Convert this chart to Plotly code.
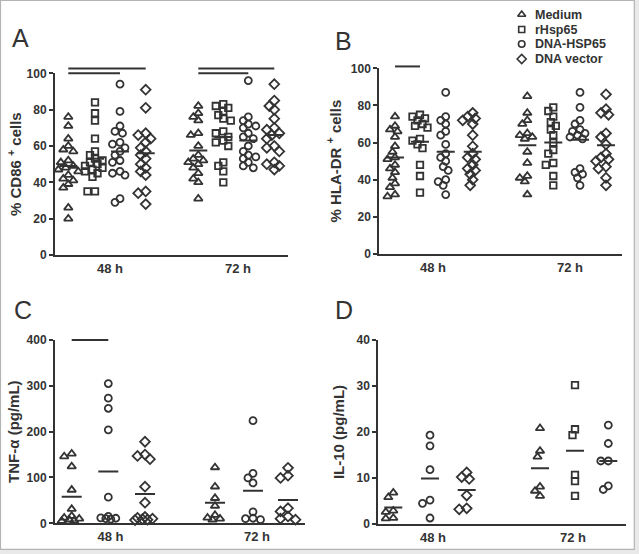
import plotly.graph_objects as go

# ---------------- data ----------------
SERIES = ["Medium", "rHsp65", "DNA-HSP65", "DNA vector"]
TIME_LABELS = ["48 h", "72 h"]

# Panel A: % CD86+ cells
cd86_48h = {
    "Medium": [76, 71, 64, 60, 58, 57, 52, 51, 49, 48, 47, 46, 44, 42, 41, 39, 37, 26, 20],
    "rHsp65": [84, 78, 74, 64, 57, 55, 53, 52, 51, 50, 49, 48, 47, 46, 45, 43, 35, 35],
    "DNA-HSP65": [94, 79, 71, 68, 67, 62, 61, 59, 57, 55, 52, 51, 46, 45, 44, 31, 29],
    "DNA vector": [91, 81, 67, 66, 64, 62, 59, 57, 55, 53, 50, 48, 46, 44, 35, 34, 28],
}
cd86_72h = {
    "Medium": [82, 78, 76, 74, 67, 66, 60, 55, 53, 52, 51, 50, 48, 45, 42, 40, 31],
    "rHsp65": [83, 82, 81, 79, 77, 75, 74, 68, 67, 65, 63, 62, 60, 51, 49, 46, 40],
    "DNA-HSP65": [96, 76, 74, 72, 71, 70, 67, 65, 64, 60, 57, 55, 54, 53, 51, 49, 48],
    "DNA vector": [94, 85, 82, 80, 75, 70, 69, 67, 66, 64, 60, 59, 57, 51, 50, 49, 47],
}
cd86_mean_48h = {"Medium": 49, "rHsp65": 53, "DNA-HSP65": 57, "DNA vector": 56}
cd86_mean_72h = {"Medium": 57.5, "rHsp65": 65, "DNA-HSP65": 63, "DNA vector": 66}
cd86_sig = [("48 h", "Medium", "DNA vector", 102.7), ("48 h", "Medium", "DNA-HSP65", 100),
            ("72 h", "Medium", "DNA vector", 102.7), ("72 h", "Medium", "DNA-HSP65", 100)]

# Panel B: % HLA-DR+ cells
hladr_48h = {
    "Medium": [74, 69, 67, 66, 63, 58, 55, 52, 51, 48, 46, 44, 41, 38, 36, 32, 31],
    "rHsp65": [75, 74, 73, 72, 70, 69, 68, 62, 61, 59, 57, 48, 42, 33],
    "DNA-HSP65": [87, 74, 72, 70, 66, 64, 59, 54, 52, 50, 47, 45, 40, 39, 37, 32],
    "DNA vector": [76, 74, 73, 72, 70, 64, 58, 54, 52, 51, 48, 46, 45, 43, 40, 37],
}
hladr_72h = {
    "Medium": [85, 76, 72, 70, 65, 64, 63, 62, 55, 49, 42, 41, 39, 32],
    "rHsp65": [79, 77, 74, 71, 69, 67, 64, 60, 56, 54, 49, 48, 42, 37],
    "DNA-HSP65": [87, 79, 72, 70, 67, 66, 65, 64, 63, 62, 46, 44, 43, 41, 37],
    "DNA vector": [86, 78, 76, 75, 65, 63, 59, 54, 52, 51, 50, 47, 46, 41, 37],
}
hladr_mean_48h = {"Medium": 52, "rHsp65": 60.5, "DNA-HSP65": 55, "DNA vector": 55}
hladr_mean_72h = {"Medium": 58.5, "rHsp65": 60, "DNA-HSP65": 61.5, "DNA vector": 58.5}
hladr_sig = [("48 h", "Medium", "rHsp65", 101)]

# Panel C: TNF-alpha (pg/mL)
tnf_48h = {
    "Medium": [152, 146, 124, 73, 31, 16, 12, 10, 8, 6, 5],
    "DNA-HSP65": [305, 273, 251, 204, 57, 15, 12, 11, 10, 9],
    "DNA vector": [178, 150, 147, 140, 80, 45, 14, 12, 10, 9, 8, 7],
}
tnf_72h = {
    "Medium": [122, 80, 55, 38, 18, 12, 10, 8],
    "DNA-HSP65": [224, 109, 99, 88, 25, 11, 10, 8],
    "DNA vector": [121, 104, 99, 33, 26, 15, 10, 8],
}
tnf_mean_48h = {"Medium": 58, "DNA-HSP65": 113, "DNA vector": 64}
tnf_mean_72h = {"Medium": 45, "DNA-HSP65": 71, "DNA vector": 51}
tnf_sig = [("48 h", "Medium", "DNA-HSP65", 400)]

# Panel D: IL-10 (pg/mL)
il10_48h = {
    "Medium": [6.8, 5.8, 2.9, 2.6, 1.3, 1.2],
    "DNA-HSP65": [19.3, 17.0, 11.8, 5.2, 4.5, 1.3],
    "DNA vector": [11.2, 10.2, 9.8, 6.2, 3.4, 3.2],
}
il10_72h = {
    "Medium": [20.8, 15.9, 14.6, 8.1, 7.2, 6.1],
    "rHsp65": [30.2, 20.6, 19.3, 10.7, 9.3, 6.1],
    "DNA-HSP65": [21.5, 17.5, 13.7, 13.7, 8.3, 7.5],
}
il10_mean_48h = {"Medium": 3.6, "DNA-HSP65": 9.9, "DNA vector": 7.4}
il10_mean_72h = {"Medium": 12.1, "rHsp65": 15.9, "DNA-HSP65": 13.7}
il10_sig = []

# ---------------- layout / style ----------------
W, H = 639, 554
INK = "#333333"
FONT = "Liberation Sans, Arial, Helvetica, sans-serif"
SYMBOL = {"Medium": "triangle-up-open", "rHsp65": "square-open",
          "DNA-HSP65": "circle-open", "DNA vector": "diamond-open"}
MSIZE = {"Medium": 7.5, "rHsp65": 6.5, "DNA-HSP65": 7, "DNA vector": 7.5}
MLINE = 1.8

PANELS = [
    dict(letter="A", letter_xy=(10, 38), box=(55, 288, 73.3, 255), ymax=100, dtick=20,
         title="% CD86 <sup>+</sup> cells", standoff=1,
         data=[cd86_48h, cd86_72h], means=[cd86_mean_48h, cd86_mean_72h], sig=cd86_sig,
         pos=[{"Medium": 68.3, "rHsp65": 95, "DNA-HSP65": 120, "DNA vector": 145.7},
              {"Medium": 198.3, "rHsp65": 223.3, "DNA-HSP65": 248.3, "DNA vector": 274.3}],
         labels=[110, 238], half=9),
    dict(letter="B", letter_xy=(333, 41), box=(379.3, 621.7, 68.3, 254), ymax=100, dtick=20,
         title="% HLA-DR <sup>+</sup> cells", standoff=6,
         data=[hladr_48h, hladr_72h], means=[hladr_mean_48h, hladr_mean_72h], sig=hladr_sig,
         pos=[{"Medium": 395, "rHsp65": 420, "DNA-HSP65": 445.7, "DNA vector": 472.7},
              {"Medium": 527.3, "rHsp65": 553.3, "DNA-HSP65": 580, "DNA vector": 606}],
         labels=[433, 570], half=9),
    dict(letter="C", letter_xy=(12, 310), box=(55, 305, 340, 523.3), ymax=400, dtick=100,
         title="TNF-α (pg/mL)", standoff=3,
         data=[tnf_48h, tnf_72h], means=[tnf_mean_48h, tnf_mean_72h], sig=tnf_sig,
         pos=[{"Medium": 71.7, "DNA-HSP65": 108.3, "DNA vector": 145},
              {"Medium": 215, "DNA-HSP65": 253, "DNA vector": 288}],
         labels=[110.5, 257], half=10),
    dict(letter="D", letter_xy=(333, 310), box=(378.3, 626, 340, 524), ymax=40, dtick=10,
         title="IL-10 (pg/mL)", standoff=8,
         data=[il10_48h, il10_72h], means=[il10_mean_48h, il10_mean_72h], sig=il10_sig,
         pos=[{"Medium": 393.3, "DNA-HSP65": 430, "DNA vector": 466.7},
              {"Medium": 540, "rHsp65": 575, "DNA-HSP65": 608.3}],
         labels=[433, 573], half=9),
]

# legend block (pixel layout, top-right)
LEG_BOX = (500, 639, 0, 75)          # x0, x1, ytop, ybottom in px
LEG_SYM_X, LEG_TXT_X = 521.7, 533
LEG_ROWS = [14.5, 29.5, 44, 59]


def swarm(vals, ppu, dmin=6.0, step=2.5, maxoff=10.0):
    """Beeswarm horizontal offsets (px) so markers overlap less."""
    cands = [0.0]
    k = 1
    while k * step <= maxoff + 1e-9:
        cands += [-k * step, k * step]
        k += 1
    placed = []
    out = [0.0] * len(vals)
    for i in sorted(range(len(vals)), key=lambda j: -vals[j]):
        y = vals[i] * ppu
        best, bestd = 0.0, -1.0
        for c in cands:
            d = min([((c - px) ** 2 + (y - py) ** 2) ** 0.5 for px, py in placed] or [1e9])
            if d >= dmin:
                best = c
                break
            if d > bestd:
                bestd, best = d, c
        placed.append((best, y))
        out[i] = best
    return out


fig = go.Figure()
layout = dict(width=W, height=H, margin=dict(l=0, r=0, t=0, b=0, autoexpand=False),
              paper_bgcolor="#e9e9e9", plot_bgcolor="rgba(0,0,0,0)", showlegend=False,
              font=dict(family=FONT, color=INK))
shapes = [dict(type="rect", xref="paper", yref="paper", layer="below",
               x0=0.5 / W, x1=634.3 / W, y0=1 - 549.3 / H, y1=1 - 0.5 / H,
               fillcolor="white", line=dict(color="#b4b4b4", width=1.2))]
annotations = []

for pi, p in enumerate(PANELS):
    n = "" if pi == 0 else str(pi + 1)
    xa, ya = "x" + n, "y" + n
    x0, x1, yt, yb = p["box"]
    xlen = x1 - x0
    ppu = (yb - yt) / p["ymax"]

    for s in SERIES:
        xs, ys = [], []
        for t in range(2):
            if s in p["data"][t]:
                vals = p["data"][t][s]
                offs = swarm(vals, ppu)
                xs += [p["pos"][t][s] - x0 + o for o in offs]
                ys += vals
        if xs:
            fig.add_trace(go.Scatter(
                x=xs, y=ys, xaxis=xa, yaxis=ya, mode="markers", name=s,
                cliponaxis=False,
                marker=dict(symbol=SYMBOL[s], size=MSIZE[s], color=INK,
                            line=dict(width=MLINE, color=INK)),
                hoverinfo="y+name"))

    mx, my = [], []
    for t in range(2):
        for s, m in p["means"][t].items():
            c = p["pos"][t][s] - x0
            mx += [c - p["half"], c + p["half"], None]
            my += [m, m, None]
    fig.add_trace(go.Scatter(x=mx, y=my, xaxis=xa, yaxis=ya, mode="lines",
                             line=dict(color=INK, width=2), hoverinfo="skip"))

    for (tl, a, b, yv) in p["sig"]:
        t = TIME_LABELS.index(tl)
        shapes.append(dict(type="line", xref=xa + " domain", yref=ya + " domain",
                           x0=(p["pos"][t][a] - x0) / xlen, x1=(p["pos"][t][b] - x0) / xlen,
                           y0=yv / p["ymax"], y1=yv / p["ymax"],
                           line=dict(color=INK, width=2)))

    layout["xaxis" + n] = dict(domain=[x0 / W, x1 / W], range=[0, xlen], anchor=ya,
                               tickmode="array", tickvals=[v - x0 for v in p["labels"]],
                               ticktext=TIME_LABELS, ticks="", showline=True, linewidth=2,
                               linecolor=INK, showgrid=False, zeroline=False, automargin=False,
                               tickfont=dict(size=13, weight="bold", color=INK, family=FONT),
                               fixedrange=True)
    layout["yaxis" + n] = dict(domain=[1 - yb / H, 1 - yt / H], range=[0, p["ymax"]], anchor=xa,
                               dtick=p["dtick"], tick0=0, ticks="outside", ticklen=4, tickwidth=1.5,
                               tickcolor=INK, showline=True, linewidth=2, linecolor=INK,
                               showgrid=False, zeroline=False, automargin=False,
                               tickfont=dict(size=12, weight="bold", color=INK, family=FONT),
                               title=dict(text=p["title"], standoff=p["standoff"],
                                          font=dict(size=15, weight="bold", color=INK, family=FONT)),
                               fixedrange=True)

    lx, ly = p["letter_xy"]
    annotations.append(dict(text=p["letter"], xref="paper", yref="paper",
                            x=lx / W, y=1 - ly / H, xanchor="left", yanchor="middle",
                            showarrow=False, font=dict(size=25, color=INK, family=FONT)))

# legend drawn on its own hidden pixel-scaled axes
lx0, lx1, lyt, lyb = LEG_BOX
for s, ry in zip(SERIES, LEG_ROWS):
    fig.add_trace(go.Scatter(x=[LEG_SYM_X], y=[ry], xaxis="x5", yaxis="y5", mode="markers",
                             name=s, cliponaxis=False, hoverinfo="name",
                             marker=dict(symbol=SYMBOL[s], size=MSIZE[s] - 0.5, color=INK,
                                         line=dict(width=1.6, color=INK))))
    annotations.append(dict(text=s, xref="x5", yref="y5", x=LEG_TXT_X, y=ry,
                            xanchor="left", yanchor="middle", showarrow=False,
                            font=dict(size=12.5, weight="bold", color=INK, family=FONT)))
layout["xaxis5"] = dict(domain=[lx0 / W, lx1 / W], range=[lx0, lx1], visible=False,
                        anchor="y5", fixedrange=True)
layout["yaxis5"] = dict(domain=[1 - lyb / H, 1 - lyt / H], range=[lyb, lyt], visible=False,
                        anchor="x5", fixedrange=True)

layout["shapes"] = shapes
layout["annotations"] = annotations
fig.update_layout(**layout)
fig.write_html("out.html", config={"displayModeBar": False},
               post_script="document.body.style.margin='0';"
                           "document.body.style.overflow='hidden';")
